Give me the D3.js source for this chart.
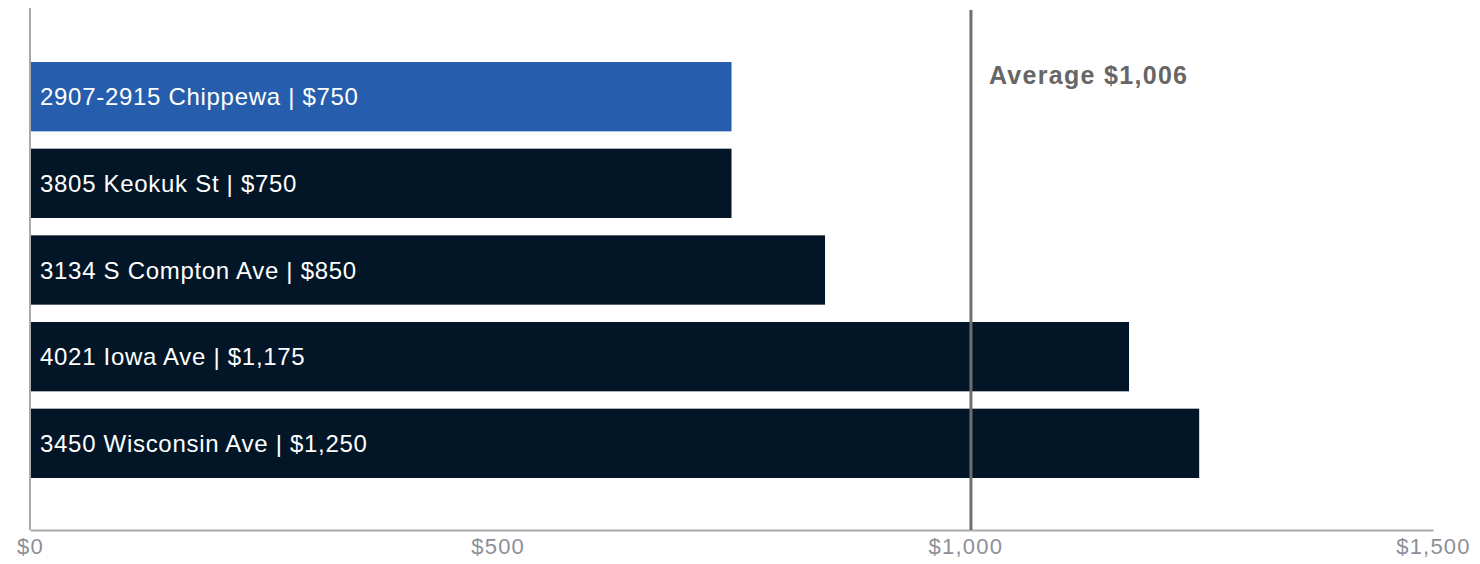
<!DOCTYPE html>
<html>
<head>
<meta charset="utf-8">
<script src="https://cdn.jsdelivr.net/npm/d3@7/dist/d3.min.js"></script>
<style>
  html, body { margin: 0; padding: 0; background: #fff; }
  svg { display: block; font-family: "Liberation Sans", Arial, sans-serif; }
</style>
</head>
<body>
<svg id="chart" width="1480" height="564"></svg>
<script>
// Rent by property
const addresses = ["2907-2915 Chippewa", "3805 Keokuk St", "3134 S Compton Ave", "4021 Iowa Ave", "3450 Wisconsin Ave"];
const rents = [750, 750, 850, 1175, 1250];
const highlighted = ["2907-2915 Chippewa"];
const averageRent = 1006;
const tickValues = [0, 500, 1000, 1500];

const svg = d3.select("#chart");
const plotLeft = 30, plotRight = 1433, plotTop = 10, plotBottom = 530;

const x = d3.scaleLinear().domain([0, 1500]).range([plotLeft, plotRight]);
const y = d3.scaleBand().domain(addresses).range([plotTop, plotBottom]).paddingInner(0.2).paddingOuter(0.6);

const money = d3.format("$,.0f");
const rows = addresses.map((a, i) => ({ address: a, rent: rents[i] }));

// Bars
svg.append("g").selectAll("rect").data(rows).join("rect")
  .attr("x", x(0))
  .attr("y", d => y(d.address))
  .attr("width", d => x(d.rent) - x(0))
  .attr("height", y.bandwidth())
  .attr("fill", d => highlighted.includes(d.address) ? "#265dac" : "#021627");

// Bar labels
svg.append("g").selectAll("text").data(rows).join("text")
  .attr("x", x(0) + 10)
  .attr("y", d => y(d.address) + y.bandwidth() / 2)
  .attr("dy", "0.36em")
  .attr("fill", "#fff")
  .attr("font-size", 24)
  .attr("letter-spacing", 0.7)
  .text(d => `${d.address} | ${money(d.rent)}`);

// Axes
const xAxis = svg.append("g").attr("transform", `translate(0,${plotBottom})`)
  .call(d3.axisBottom(x).tickValues(tickValues).tickFormat(money).tickSize(0).tickPadding(8));
xAxis.select(".domain").attr("stroke", "#aaa").attr("stroke-width", 2);
xAxis.selectAll("text")
  .attr("fill", "#8c8f98")
  .attr("font-size", 22)
  .attr("letter-spacing", 1.2)
  .attr("font-family", "Liberation Sans, Arial, sans-serif");

svg.append("line")
  .attr("x1", plotLeft).attr("x2", plotLeft)
  .attr("y1", plotTop - 2).attr("y2", plotBottom)
  .attr("stroke", "#aaa").attr("stroke-width", 2);

// Average reference line
svg.append("line")
  .attr("x1", x(averageRent)).attr("x2", x(averageRent))
  .attr("y1", plotTop).attr("y2", plotBottom)
  .attr("stroke", "#6e6e6e").attr("stroke-width", 3);

svg.append("text")
  .attr("x", x(averageRent) + 18)
  .attr("y", 84)
  .attr("fill", "#666")
  .attr("font-size", 25)
  .attr("font-weight", "bold")
  .attr("letter-spacing", 1.3)
  .text(`Average ${money(averageRent)}`);
</script>
</body>
</html>
